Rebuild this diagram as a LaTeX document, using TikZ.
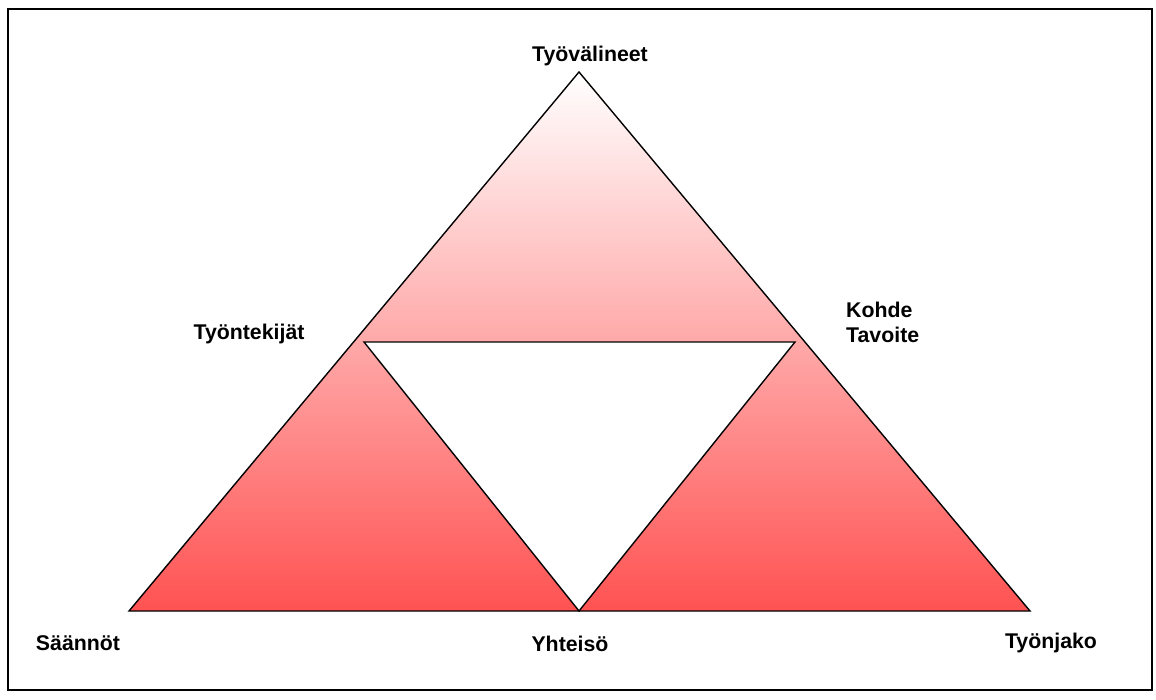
\documentclass[tikz,border=0pt]{standalone}
\usepackage{fontspec}
\setmainfont{Liberation Sans}
\definecolor{basered}{RGB}{255,82,82}
\definecolor{midpink}{RGB}{255,198,198}
\begin{document}
\begin{tikzpicture}[x=1pt,y=-1pt,
  lbl/.style={font=\bfseries\fontsize{21.3}{25}\selectfont, inner sep=0pt, align=left},
  edge/.style={draw=black, line width=1.4pt, line join=miter}]
\useasboundingbox (0,0) rectangle (1156,700);
\draw[line width=2.8pt] (8,9) rectangle (1152,690);
\coordinate (A) at (579,72);
\coordinate (L) at (129,611);
\coordinate (R) at (1030,611);
\coordinate (IL) at (364,342);
\coordinate (IR) at (795,342);
\coordinate (IB) at (579,611);
\shade[top color=white, middle color=midpink, bottom color=basered] (A) -- (R) -- (L) -- cycle;
\draw[edge] (A) -- (R) -- (L) -- cycle;
\filldraw[edge, fill=white] (IL) -- (IR) -- (IB) -- cycle;
\node[lbl] (top) at (590,56) {Työvälineet};
\node[lbl] (tk) at (249,334) {Työntekijät};
\node[lbl, anchor=west] (kt) at (846,322) {Kohde\\Tavoite};
\node[lbl] (sa) at (78,643) {Säännöt};
\node[lbl] (yh) at (570,644) {Yhteisö};
\node[lbl] (tj) at (1051,643) {Työnjako};
\end{tikzpicture}
\end{document}
